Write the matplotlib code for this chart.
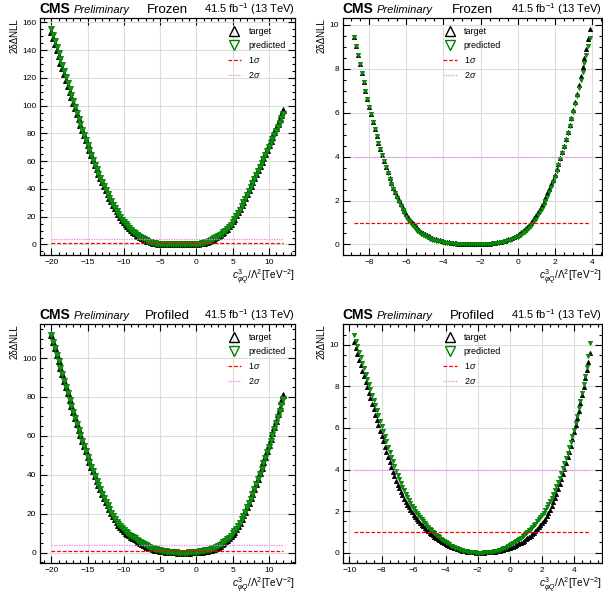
import matplotlib
matplotlib.use("Agg")
import matplotlib.pyplot as plt
import numpy as np
from matplotlib.ticker import AutoMinorLocator
from matplotlib.lines import Line2D

plt.rcParams['font.family'] = ['Liberation Sans', 'DejaVu Sans']
plt.rcParams['mathtext.fontset'] = 'custom'
plt.rcParams['mathtext.rm'] = 'Liberation Sans'
plt.rcParams['mathtext.it'] = 'Liberation Sans:italic'
plt.rcParams['mathtext.bf'] = 'Liberation Sans:bold'

# ---- full scan (-20 .. 12, step 0.25) ----
x_full = np.linspace(-20, 12, 129)

frozen_target_full = [
    153.1, 148.7, 144.2, 139.8, 135.5, 131.1, 126.9, 122.6,
    118.4, 114.2, 110.1, 106.0, 102.0, 98.0, 94.1, 90.2,
    86.3, 82.5, 78.8, 75.1, 71.5, 67.9, 64.4, 61.0,
    57.6, 54.3, 51.1, 48.0, 44.9, 42.0, 39.1, 36.4,
    33.7, 31.1, 28.7, 26.3, 24.0, 21.9, 19.9, 18.0,
    16.25, 14.65, 13.15, 11.8, 10.5, 9.28, 8.19, 7.19,
    6.27, 5.41, 4.63, 3.92, 3.28, 2.70, 2.19, 1.75,
    1.38, 1.07, 0.82, 0.62, 0.47, 0.35, 0.27, 0.20,
    0.15, 0.10, 0.07, 0.04, 0.02, 0.01, 0.00, 0.00,
    0.01, 0.02, 0.04, 0.07, 0.11, 0.17, 0.24, 0.33,
    0.44, 0.58, 0.78, 1.02, 1.33, 1.70, 2.13, 2.62,
    3.18, 3.80, 4.49, 5.26, 6.11, 7.04, 8.05, 9.12,
    10.24, 11.5, 13.0, 14.75, 16.6, 18.7, 20.9, 23.3,
    25.7, 28.3, 30.9, 33.6, 36.3, 39.1, 41.9, 44.7,
    47.6, 50.5, 53.4, 56.3, 59.3, 62.3, 65.3, 68.3,
    71.4, 74.5, 77.6, 80.7, 83.9, 87.1, 90.3, 93.5,
    96.8,
]
frozen_pred_full = [
    155.1, 151.0, 146.8, 142.5, 138.0, 133.7, 129.4, 125.0,
    120.6, 116.3, 112.0, 107.6, 103.2, 99.0, 94.8, 90.7,
    86.7, 82.7, 78.9, 75.1, 71.5, 67.9, 64.4, 61.0,
    57.6, 54.3, 51.1, 48.0, 44.9, 42.0, 39.1, 36.4,
    33.7, 31.1, 28.7, 26.3, 24.0, 21.9, 19.9, 18.0,
    16.25, 14.65, 13.15, 11.8, 10.5, 9.28, 8.19, 7.19,
    6.27, 5.41, 4.63, 3.91, 3.25, 2.65, 2.11, 1.65,
    1.26, 0.95, 0.70, 0.51, 0.37, 0.27, 0.20, 0.15,
    0.10, 0.07, 0.04, 0.03, 0.01, 0.00, 0.00, 0.00,
    0.00, 0.01, 0.03, 0.05, 0.09, 0.14, 0.20, 0.27,
    0.36, 0.48, 0.66, 0.88, 1.18, 1.55, 1.98, 2.50,
    3.08, 3.73, 4.44, 5.21, 6.04, 6.92, 7.85, 8.82,
    9.80, 11.0, 12.5, 14.2, 16.1, 18.2, 20.4, 22.8,
    25.2, 27.8, 30.4, 33.1, 35.8, 38.6, 41.4, 44.2,
    47.1, 49.9, 52.8, 55.7, 58.6, 61.5, 64.4, 67.3,
    70.2, 73.1, 76.0, 79.0, 81.9, 84.8, 87.8, 90.8,
    93.8,
]
profiled_target_full = [
    111.8, 108.5, 105.2, 101.8, 98.4, 95.1, 91.7, 88.4,
    85.1, 81.8, 78.6, 75.4, 72.3, 69.2, 66.2, 63.2,
    60.3, 57.5, 54.7, 52.0, 49.3, 46.7, 44.2, 41.7,
    39.3, 37.0, 34.7, 32.5, 30.3, 28.2, 26.2, 24.3,
    22.4, 20.6, 18.9, 17.3, 15.8, 14.4, 13.2, 12.1,
    11.1, 10.26, 9.56, 8.88, 8.21, 7.56, 6.90, 6.25,
    5.60, 4.97, 4.35, 3.79, 3.27, 2.83, 2.44, 2.12,
    1.83, 1.58, 1.35, 1.15, 0.96, 0.80, 0.65, 0.52,
    0.41, 0.31, 0.23, 0.16, 0.10, 0.06, 0.03, 0.01,
    0.00, 0.00, 0.01, 0.02, 0.04, 0.06, 0.11, 0.16,
    0.23, 0.30, 0.40, 0.50, 0.64, 0.79, 0.96, 1.17,
    1.41, 1.71, 2.07, 2.52, 3.05, 3.64, 4.30, 5.00,
    5.80, 6.66, 7.60, 8.59, 9.62, 10.8, 12.1, 13.6,
    15.3, 17.1, 19.1, 21.1, 23.3, 25.5, 27.9, 30.3,
    32.8, 35.4, 38.0, 40.7, 43.6, 46.4, 49.3, 52.3,
    55.3, 58.4, 61.5, 64.7, 67.9, 71.2, 74.5, 77.8,
    81.2,
]
profiled_pred_full = [
    111.8, 108.5, 105.2, 101.8, 98.4, 95.1, 91.7, 88.4,
    85.1, 81.8, 78.6, 75.4, 72.3, 69.2, 66.2, 63.2,
    60.3, 57.5, 54.7, 52.0, 49.3, 46.7, 44.2, 41.7,
    39.3, 37.0, 34.7, 32.5, 30.3, 28.2, 26.2, 24.3,
    22.4, 20.6, 18.9, 17.3, 15.9, 14.6, 13.5, 12.45,
    11.45, 10.61, 9.93, 9.28, 8.61, 7.98, 7.35, 6.73,
    6.10, 5.47, 4.85, 4.27, 3.72, 3.26, 2.82, 2.47,
    2.13, 1.85, 1.60, 1.37, 1.16, 0.97, 0.80, 0.64,
    0.49, 0.36, 0.27, 0.18, 0.12, 0.07, 0.03, 0.01,
    0.00, 0.00, 0.01, 0.03, 0.06, 0.10, 0.17, 0.25,
    0.35, 0.47, 0.60, 0.75, 0.94, 1.11, 1.31, 1.55,
    1.81, 2.11, 2.47, 2.90, 3.40, 3.94, 4.55, 5.20,
    5.90, 6.76, 7.70, 8.72, 10.07, 11.0, 12.2, 13.6,
    15.3, 17.1, 19.0, 21.0, 23.2, 25.4, 27.7, 30.1,
    32.6, 35.1, 37.7, 40.4, 43.2, 45.9, 48.7, 51.6,
    54.5, 57.5, 60.5, 63.5, 66.5, 69.6, 72.7, 75.7,
    78.8,
]

# ---- zoomed scans (2dNLL < ~10, step 0.1) ----
x_frozen_zoom = np.linspace(-8.8, 3.9, 128)
frozen_target_zoom = [
    9.45, 9.03, 8.61, 8.19, 7.79, 7.39, 7.00, 6.63, 6.27, 5.92,
    5.58, 5.25, 4.93, 4.63, 4.34, 4.06, 3.79, 3.53, 3.28, 3.04,
    2.81, 2.59, 2.39, 2.19, 2.01, 1.83, 1.67, 1.52, 1.38, 1.25,
    1.13, 1.02, 0.92, 0.82, 0.74, 0.66, 0.59, 0.53, 0.47, 0.42,
    0.37, 0.33, 0.30, 0.27, 0.24, 0.21, 0.19, 0.17, 0.15, 0.13,
    0.11, 0.10, 0.08, 0.07, 0.06, 0.05, 0.04, 0.03, 0.02, 0.02,
    0.01, 0.01, 0.00, 0.00, 0.00, 0.00, 0.00, 0.00, 0.01, 0.01,
    0.02, 0.02, 0.03, 0.04, 0.05, 0.06, 0.08, 0.10, 0.11, 0.13,
    0.16, 0.18, 0.21, 0.24, 0.27, 0.31, 0.35, 0.39, 0.44, 0.49,
    0.55, 0.62, 0.70, 0.78, 0.87, 0.97, 1.08, 1.20, 1.33, 1.47,
    1.62, 1.78, 1.95, 2.13, 2.32, 2.52, 2.73, 2.95, 3.18, 3.42,
    3.67, 3.93, 4.20, 4.49, 4.79, 5.10, 5.42, 5.76, 6.11, 6.47,
    6.85, 7.24, 7.64, 8.05, 8.47, 8.90, 9.34, 9.79,
]
frozen_pred_zoom = [
    9.45, 9.03, 8.61, 8.19, 7.79, 7.39, 7.00, 6.63, 6.27, 5.92,
    5.58, 5.25, 4.93, 4.63, 4.33, 4.05, 3.78, 3.51, 3.25, 3.00,
    2.77, 2.54, 2.33, 2.11, 1.92, 1.74, 1.57, 1.41, 1.26, 1.13,
    1.01, 0.90, 0.80, 0.70, 0.62, 0.55, 0.48, 0.42, 0.37, 0.33,
    0.29, 0.25, 0.22, 0.20, 0.18, 0.16, 0.14, 0.12, 0.10, 0.09,
    0.08, 0.07, 0.05, 0.04, 0.04, 0.03, 0.03, 0.02, 0.01, 0.01,
    0.01, 0.00, 0.00, 0.00, 0.00, 0.00, 0.00, 0.00, 0.00, 0.01,
    0.01, 0.01, 0.02, 0.03, 0.04, 0.05, 0.06, 0.08, 0.09, 0.11,
    0.13, 0.15, 0.17, 0.20, 0.22, 0.25, 0.29, 0.32, 0.36, 0.40,
    0.45, 0.51, 0.58, 0.66, 0.74, 0.83, 0.93, 1.05, 1.18, 1.32,
    1.47, 1.63, 1.80, 1.98, 2.18, 2.39, 2.61, 2.84, 3.08, 3.33,
    3.60, 3.87, 4.15, 4.44, 4.74, 5.05, 5.37, 5.70, 6.04, 6.39,
    6.74, 7.10, 7.47, 7.85, 8.24, 8.63, 9.02, 9.41,
]

x_profiled_zoom = np.linspace(-9.7, 5.0, 148)
profiled_target_zoom = [
    10.12, 9.84, 9.56, 9.29, 9.02, 8.75, 8.48, 8.21, 7.95, 7.69,
    7.43, 7.16, 6.90, 6.64, 6.38, 6.12, 5.86, 5.60, 5.35, 5.10,
    4.85, 4.60, 4.35, 4.12, 3.90, 3.68, 3.47, 3.27, 3.09, 2.92,
    2.75, 2.59, 2.44, 2.31, 2.18, 2.06, 1.94, 1.83, 1.73, 1.63,
    1.53, 1.44, 1.35, 1.27, 1.19, 1.11, 1.03, 0.96, 0.89, 0.83,
    0.77, 0.71, 0.65, 0.60, 0.55, 0.50, 0.45, 0.41, 0.37, 0.33,
    0.29, 0.26, 0.23, 0.20, 0.17, 0.15, 0.12, 0.10, 0.08, 0.07,
    0.05, 0.04, 0.03, 0.02, 0.01, 0.01, 0.00, 0.00, 0.00, 0.00,
    0.00, 0.00, 0.01, 0.01, 0.02, 0.02, 0.03, 0.04, 0.05, 0.06,
    0.07, 0.09, 0.11, 0.13, 0.15, 0.18, 0.20, 0.23, 0.26, 0.29,
    0.32, 0.36, 0.40, 0.44, 0.48, 0.53, 0.58, 0.64, 0.70, 0.76,
    0.82, 0.89, 0.96, 1.04, 1.13, 1.22, 1.31, 1.41, 1.52, 1.64,
    1.78, 1.92, 2.07, 2.24, 2.42, 2.62, 2.83, 3.05, 3.28, 3.52,
    3.77, 4.03, 4.30, 4.58, 4.86, 5.15, 5.46, 5.80, 6.13, 6.48,
    6.84, 7.21, 7.60, 7.99, 8.39, 8.79, 9.20, 9.62,
]
profiled_pred_zoom = [
    10.47, 10.20, 9.93, 9.67, 9.41, 9.15, 8.88, 8.61, 8.36, 8.11,
    7.86, 7.60, 7.35, 7.10, 6.85, 6.61, 6.36, 6.10, 5.85, 5.60,
    5.35, 5.10, 4.85, 4.61, 4.39, 4.16, 3.94, 3.72, 3.53, 3.35,
    3.17, 3.00, 2.82, 2.68, 2.54, 2.40, 2.26, 2.13, 2.02, 1.91,
    1.80, 1.70, 1.60, 1.51, 1.42, 1.33, 1.24, 1.16, 1.08, 1.01,
    0.94, 0.87, 0.80, 0.73, 0.67, 0.61, 0.55, 0.49, 0.44, 0.39,
    0.34, 0.30, 0.27, 0.23, 0.20, 0.17, 0.14, 0.12, 0.10, 0.08,
    0.06, 0.04, 0.03, 0.02, 0.01, 0.01, 0.00, 0.00, 0.00, 0.00,
    0.00, 0.01, 0.01, 0.02, 0.03, 0.03, 0.05, 0.06, 0.07, 0.09,
    0.11, 0.14, 0.17, 0.20, 0.23, 0.27, 0.31, 0.35, 0.40, 0.45,
    0.49, 0.55, 0.60, 0.66, 0.72, 0.79, 0.86, 0.94, 1.01, 1.08,
    1.15, 1.23, 1.31, 1.40, 1.50, 1.60, 1.70, 1.81, 1.92, 2.04,
    2.18, 2.32, 2.47, 2.63, 2.81, 3.00, 3.20, 3.40, 3.61, 3.83,
    4.05, 4.29, 4.55, 4.81, 5.07, 5.34, 5.62, 5.90, 6.23, 6.58,
    6.94, 7.31, 7.70, 8.10, 8.51, 8.94, 9.45, 10.07,
]

# 图的位置 (figure fraction)
axes_rect = {
    "tl": [0.066, 0.571, 0.423, 0.398],
    "tr": [0.568, 0.571, 0.430, 0.398],
    "bl": [0.066, 0.053, 0.423, 0.402],
    "br": [0.568, 0.053, 0.430, 0.402],
}


def nll_panel(ax, x, target, pred, title, legend_loc, ms, ylab_x):
    ax.grid(True, color="#dcdcdc", lw=0.8, zorder=0)
    ax.plot(x, target, ls="none", marker="^", ms=ms, mfc="black",
            mec="black", mew=0.6, zorder=2)
    ax.plot(x, pred, ls="none", marker="v", ms=ms, mfc="#1a8f1a",
            mec="green", mew=0.6, zorder=3)
    ax.hlines(1, x[0], x[-1], colors="red", linestyles=(0, (3, 1.5)),
              lw=0.9, zorder=4)
    ax.hlines(4, x[0], x[-1], colors="violet", linestyles=(0, (1, 1)),
              lw=0.9, zorder=4)

    # 刻度 (CMS style)
    ax.xaxis.set_minor_locator(AutoMinorLocator())
    ax.yaxis.set_minor_locator(AutoMinorLocator())
    ax.tick_params(which="both", direction="in", top=True, right=True,
                   labelsize=6, width=0.8, pad=2.5)
    ax.tick_params(which="major", length=5)
    ax.tick_params(which="minor", length=2.5)
    for s in ax.spines.values():
        s.set_linewidth(0.9)

    ax.set_xlabel("$c^{3}_{\\varphi Q}/\\Lambda^{2}$[TeV$^{-2}$]",
                  fontsize=7.2, loc="right", labelpad=1)
    ax.set_ylabel("2δΔNLL", fontsize=7, loc="top")
    ax.yaxis.set_label_coords(ylab_x, 1.0)

    # legend: 空心标记
    handles = [
        Line2D([], [], ls="none", marker="^", ms=7, mfc="none", mec="black", mew=1.0),
        Line2D([], [], ls="none", marker="v", ms=7, mfc="none", mec="green", mew=1.0),
        Line2D([], [], color="red", ls=(0, (3, 1.5)), lw=0.9),
        Line2D([], [], color="violet", ls=(0, (1, 1)), lw=0.9),
    ]
    labels = ["target", "predicted", "1$\\sigma$", "2$\\sigma$"]
    ax.legend(handles, labels, loc=legend_loc, frameon=False, fontsize=6.5,
              handlelength=1.5, labelspacing=0.55, borderaxespad=0.6)

    # header
    ax.annotate("CMS", xy=(0, 1), xycoords="axes fraction", xytext=(0, 4),
                textcoords="offset points", fontsize=10, fontweight="bold",
                ha="left", va="baseline")
    ax.annotate("Preliminary", xy=(0, 1), xycoords="axes fraction",
                xytext=(24.5, 4), textcoords="offset points", fontsize=8,
                style="italic", ha="left", va="baseline")
    ax.annotate(title, xy=(0.5, 1), xycoords="axes fraction", xytext=(0, 4),
                textcoords="offset points", fontsize=9.5, ha="center",
                va="baseline")
    ax.annotate("41.5 fb$^{-1}$ (13 TeV)", xy=(1, 1), xycoords="axes fraction",
                xytext=(0, 4), textcoords="offset points", fontsize=8,
                ha="right", va="baseline")


fig = plt.figure(figsize=(6.03, 5.95), dpi=100)

ax = fig.add_axes(axes_rect["tl"])
nll_panel(ax, x_full, frozen_target_full, frozen_pred_full, "Frozen",
          "upper right", 4.3, -0.078)
ax = fig.add_axes(axes_rect["tr"])
nll_panel(ax, x_frozen_zoom, frozen_target_zoom, frozen_pred_zoom, "Frozen",
          "upper center", 3.0, -0.062)
ax = fig.add_axes(axes_rect["bl"])
nll_panel(ax, x_full, profiled_target_full, profiled_pred_full, "Profiled",
          "upper right", 4.3, -0.078)
ax = fig.add_axes(axes_rect["br"])
nll_panel(ax, x_profiled_zoom, profiled_target_zoom, profiled_pred_zoom, "Profiled",
          "upper center", 3.0, -0.062)

fig.savefig("out.png", dpi=100)
